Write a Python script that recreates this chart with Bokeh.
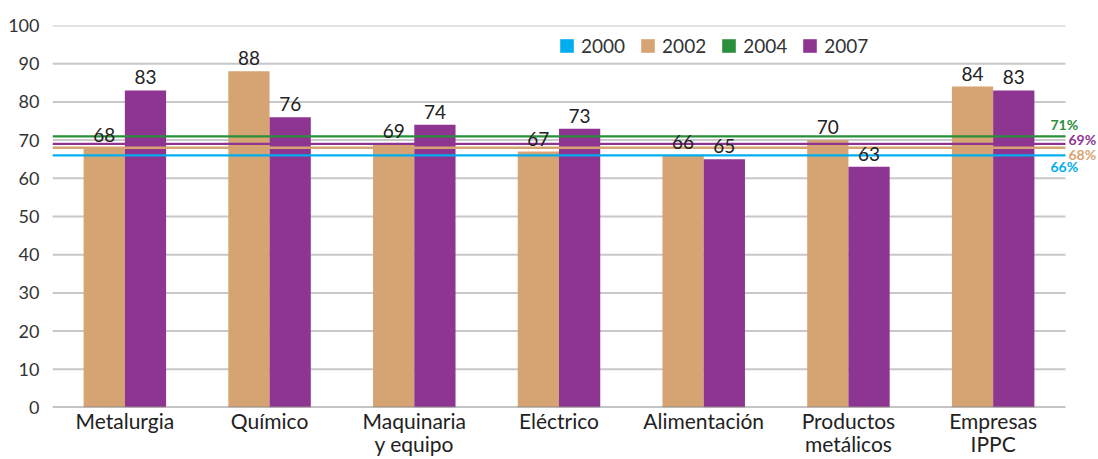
from bokeh.plotting import figure
from bokeh.models import (ColumnDataSource, FixedTicker, Legend, LegendItem, Label,
                          LabelSet, Range1d)
from bokeh.embed import file_html
from bokeh.resources import INLINE
from bokeh.core.properties import value

# ---- data ----
categories = ["Metalurgia", "Químico", "Maquinaria\ny equipo", "Eléctrico", "Alimentación",
              "Productos\nmetálicos", "Empresas\nIPPC"]
values_2002 = [68, 88, 69, 67, 66, 70, 84]
values_2007 = [83, 76, 74, 73, 65, 63, 83]
avg_years = ["2000", "2002", "2004", "2007"]
avg_values = [66, 68, 71, 69]
y_ticks = [0, 10, 20, 30, 40, 50, 60, 70, 80, 90, 100]

colors = {"2000": "#00AEEF", "2002": "#D6A373", "2004": "#2A8F3B", "2007": "#8E3591"}
FONT = "Lato"
n = len(categories)
centers = [i + 0.5 for i in range(n)]
bw = 0.285
x_pad_right = 33 / (1013 / n)   # extra room on the right for the % labels

p = figure(width=1098, height=459, output_backend="svg", toolbar_location=None,
           x_range=Range1d(0, n + x_pad_right), y_range=Range1d(0, 100),
           min_border_left=52, min_border_right=0, min_border_top=25, min_border_bottom=52)
p.outline_line_color = None
p.background_fill_color = "white"
p.border_fill_color = "white"

# grid lines (drawn as segments so they stop at the last category)
p.xgrid.grid_line_color = None
p.ygrid.grid_line_color = None
grid_y = [t for t in y_ticks if t > 0]
p.segment(x0=[0] * len(grid_y), x1=[n] * len(grid_y), y0=grid_y, y1=grid_y,
          line_color="#C8C8C8", line_width=2)

# y axis
p.yaxis.ticker = FixedTicker(ticks=y_ticks)
p.yaxis.axis_line_color = None
p.yaxis.major_tick_line_color = None
p.yaxis.minor_tick_line_color = None
p.yaxis.major_label_text_font = FONT
p.yaxis.major_label_text_font_size = "18px"
p.yaxis.major_label_text_color = "#333333"
p.yaxis.major_label_standoff = 7

# x axis
p.xaxis.ticker = FixedTicker(ticks=centers)
p.xaxis.major_label_overrides = {c: categories[i] for i, c in enumerate(centers)}
p.xaxis.axis_line_color = None
p.xaxis.major_tick_line_color = None
p.xaxis.minor_tick_line_color = None
p.xaxis.major_tick_out = 0
p.xaxis.major_tick_in = 0
p.xaxis.major_label_text_font = FONT
p.xaxis.major_label_text_font_size = "21px"
p.xaxis.major_label_text_line_height = 0.95
p.xaxis.major_label_text_color = "#222222"
p.xaxis.major_label_standoff = 0

src = ColumnDataSource(dict(
    x02=[c - bw / 2 for c in centers], x07=[c + bw / 2 for c in centers],
    v02=values_2002, v07=values_2007,
    t02=[str(v) for v in values_2002], t07=[str(v) for v in values_2007],
))

bars02 = p.vbar(x="x02", top="v02", width=bw, source=src, fill_color=colors["2002"], line_color=None)
bars07 = p.vbar(x="x07", top="v07", width=bw, source=src, fill_color=colors["2007"], line_color=None)

# baseline (zero line)
p.segment(x0=[0], x1=[n], y0=[0], y1=[0], line_color="#8A8A8A", line_width=2)

for xcol, vcol, tcol in (("x02", "v02", "t02"), ("x07", "v07", "t07")):
    p.add_layout(LabelSet(x=xcol, y=vcol, text=tcol, source=src, text_align="center",
                          text_baseline="alphabetic", y_offset=6, text_font=value(FONT),
                          text_font_size="19px", text_color="#222222"))

# average lines (thin horizontal bars spanning the categories)
avg_renderers = {}
for yr, v in zip(avg_years, avg_values):
    avg_renderers[yr] = p.hbar(y=[v], left=[0], right=[n], height=0.6,
                               fill_color=colors[yr], line_color=None)

label_offsets = {"2000": (-15, -11), "2002": (3, -7), "2004": (-15, 12), "2007": (3, 4)}
for yr, v in zip(avg_years, avg_values):
    dx, dy = label_offsets[yr]
    p.add_layout(Label(x=n, y=v, text=f"{v}%", x_offset=dx, y_offset=dy,
                       text_align="left", text_baseline="middle", text_font=FONT,
                       text_font_size="14px", text_font_style="bold", text_color=colors[yr]))

# legend
legend_renderers = {"2000": avg_renderers["2000"], "2002": bars02,
                    "2004": avg_renderers["2004"], "2007": bars07}
items = [LegendItem(label=yr, renderers=[legend_renderers[yr]]) for yr in avg_years]
legend = Legend(items=items, orientation="horizontal", location=(506, 350),
                glyph_width=17, glyph_height=17, label_standoff=6, spacing=14,
                label_width=43, padding=0, margin=0, border_line_color=None,
                background_fill_alpha=0, label_text_font=FONT, label_text_font_size="19px",
                label_text_color="#333333")
p.add_layout(legend, "center")

open("out.html", "w").write(file_html(p, INLINE))
